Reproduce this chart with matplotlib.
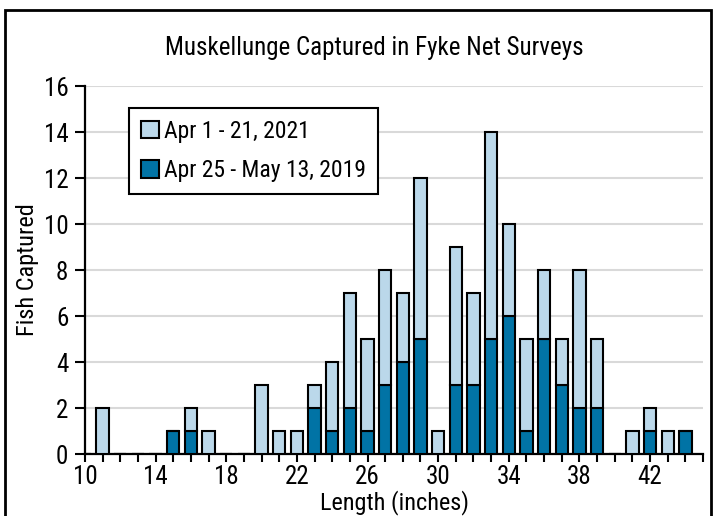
import numpy as np
import matplotlib
matplotlib.use('Agg')
from matplotlib import pyplot as plt
from matplotlib.patches import Rectangle

# length classes (inches)
lengths = np.arange(10, 45)
# Apr 25 - May 13, 2019 (dark, bottom)
fish_2019 = [0, 0, 0, 0, 0, 1, 1, 0, 0, 0,
             0, 0, 0, 2, 1, 2, 1, 3, 4, 5,
             0, 3, 3, 5, 6, 1, 5, 3, 2, 2,
             0, 0, 1, 0, 1]
# Apr 1 - 21, 2021 (light, stacked on top)
fish_2021 = [0, 2, 0, 0, 0, 0, 1, 1, 0, 0,
             3, 1, 1, 1, 3, 5, 4, 5, 3, 7,
             1, 6, 4, 9, 4, 4, 3, 2, 6, 3,
             0, 1, 1, 1, 0]
label_2021 = 'Apr 1 - 21, 2021'
label_2019 = 'Apr 25 - May 13, 2019'

light = '#bbd8ea'
dark = '#0173a5'

plt.rcParams['font.family'] = ['Roboto Condensed', 'Roboto', 'DejaVu Sans']

W, H = 716, 516
fig = plt.figure(figsize=(W / 100, H / 100), dpi=100)
ax = fig.add_axes([85 / W, 1 - 454 / H, (703 - 85) / W, (454 - 86) / H])

b1 = ax.bar(lengths, fish_2019, width=0.7, color=dark, edgecolor='black',
            linewidth=1.5, label=label_2019, zorder=3)
b2 = ax.bar(lengths, fish_2021, bottom=fish_2019, width=0.7, color=light,
            edgecolor='black', linewidth=1.5, label=label_2021, zorder=3)

ax.set_xlim(10, 45)
ax.set_ylim(0, 16)
ax.set_xticks(np.arange(10, 46), minor=True)
ax.set_xticks(np.arange(10, 43, 4))
ax.set_yticks(np.arange(0, 17, 2))
ax.tick_params(axis='both', which='both', direction='out', width=1.5,
               labelsize=18, color='black')
ax.tick_params(axis='x', which='both', length=6, pad=2)
ax.tick_params(axis='y', length=7, pad=5)
ax.grid(axis='y', color='#d9d9d9', linewidth=1.5, zorder=0)
ax.set_axisbelow(True)
for s in ['top', 'right']:
    ax.spines[s].set_visible(False)
for s in ['left', 'bottom']:
    ax.spines[s].set_linewidth(1.6)

ax.set_xlabel('Length (inches)', fontsize=17.5, labelpad=1)
ax.set_ylabel('Fish Captured', fontsize=17.5, labelpad=3)

leg = ax.legend([b2, b1], [label_2021, label_2019], loc='upper left',
                bbox_to_anchor=((129 - 85) / (703 - 85), 1 - (108 - 86) / (454 - 86)),
                fontsize=17, frameon=True, fancybox=False, framealpha=1,
                handlelength=0.75, handleheight=0.75, handletextpad=0.25,
                labelspacing=0.7, borderpad=0.5, borderaxespad=0)
leg.get_frame().set_edgecolor('black')
leg.get_frame().set_linewidth(1.5)

fig.text(374 / W, 1 - 48 / H, 'Muskellunge Captured in Fyke Net Surveys',
         ha='center', va='center', fontsize=18)

# outer frame of the chart area
fig.patches.append(Rectangle((5 / W, -0.05), (711 - 5) / W, 1.05 - 10 / H,
                             transform=fig.transFigure, fill=False,
                             edgecolor='black', linewidth=2))

fig.savefig('out.png', dpi=100)
